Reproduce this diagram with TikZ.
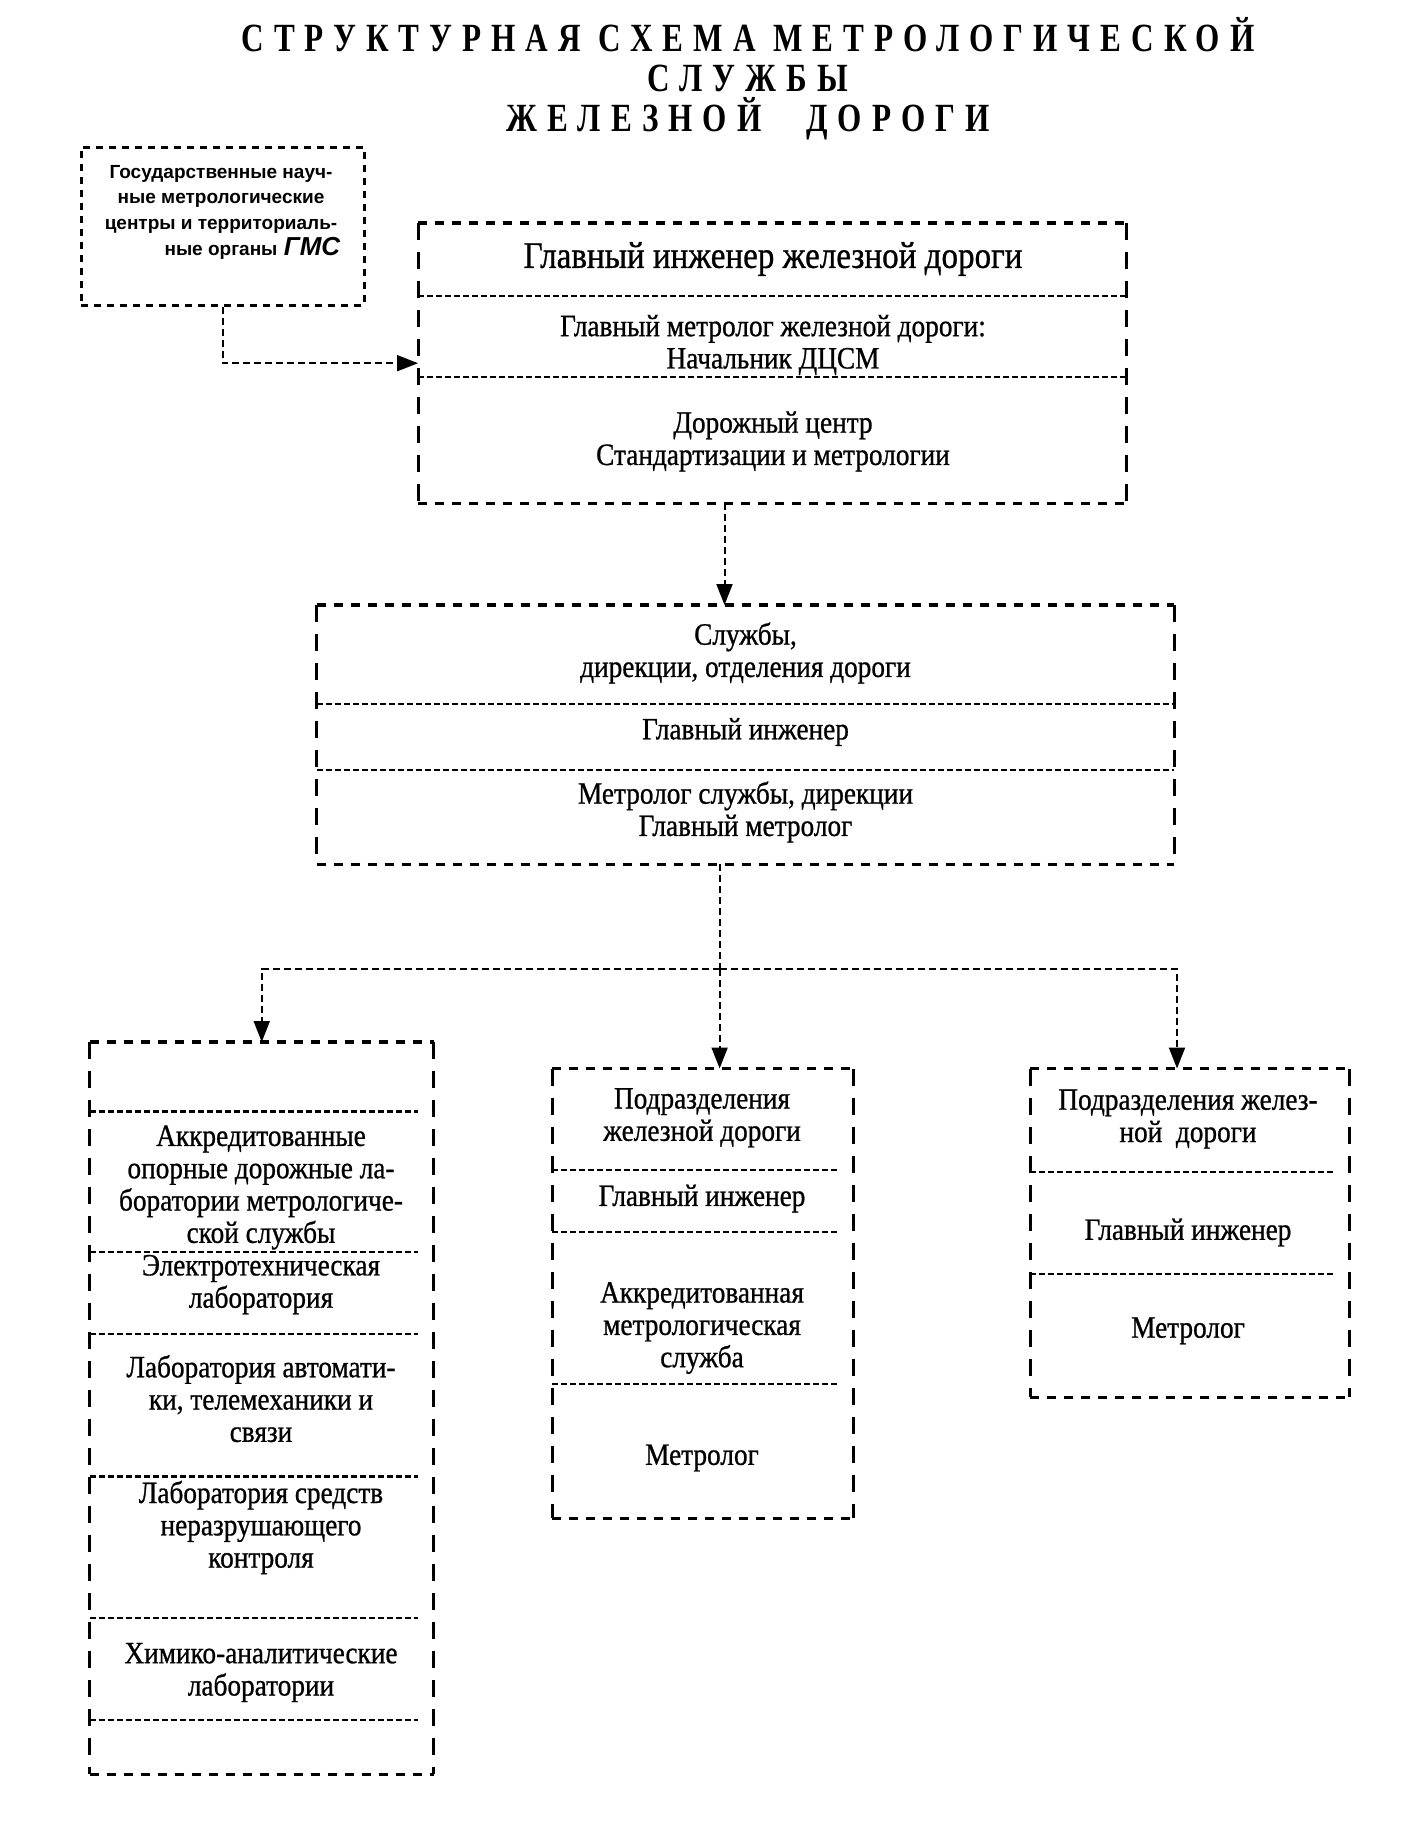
\documentclass[tikz,border=0pt]{standalone}
\usepackage{fontspec}
\setmainfont{Liberation Serif}[FakeStretch=0.88,FakeBold=0.8]
\newfontfamily\titlefont{Liberation Serif}[FakeStretch=0.78,LetterSpace=25]
\newfontfamily\sansfont{Liberation Sans}
\usetikzlibrary{arrows.meta}
\newcommand\drawdbox[1]{%
  \draw[hdash] (#1.north west) -- (#1.north east);
  \draw[hdash] (#1.south west) -- (#1.south east);
  \draw[vdash] (#1.north west) -- (#1.south west);
  \draw[vdash] (#1.north east) -- (#1.south east);}
\begin{document}
\begin{tikzpicture}[x=1pt,y=-1pt,
  bigbox/.style={inner sep=0pt, anchor=north west},
  hdash/.style={line width=3.5pt, dash pattern=on 9pt off 8pt},
  vdash/.style={line width=3pt, dash pattern=on 17pt off 12pt},
  smallbox/.style={draw, line width=2.6pt, dash pattern=on 7pt off 6pt, inner sep=0pt, anchor=north west},
  divider/.style={line width=2.2pt, dash pattern=on 6pt off 3pt},
  cline/.style={line width=2pt, dash pattern=on 7pt off 4pt},
  conn/.style={cline, -{Triangle[length=21pt,width=16pt]}},
  txt/.style={inner sep=0pt, align=center, font=\fontsize{31}{32.3}\selectfont},
  ttl/.style={inner sep=0pt, align=center, font=\titlefont\bfseries\fontsize{40}{40}\selectfont}]
\useasboundingbox (0,0) rectangle (1417,1838);

% title
\node[ttl] (h) at (748,78.5) {СТРУКТУРНАЯ СХЕМА МЕТРОЛОГИЧЕСКОЙ\\СЛУЖБЫ\\ЖЕЛЕЗНОЙ\hspace{45pt}ДОРОГИ};

% top-left box
\node[smallbox, minimum width=283pt, minimum height=158pt] (tl) at (80,146) {};
\node[inner sep=0pt, align=center, font=\sansfont\bfseries\fontsize{19}{25.7}\selectfont] (tlt) at (221,212)
  {Государственные науч-\\ные метрологические\\центры и территориаль-\\ные органы};
\node[inner sep=0pt, font=\sansfont\bfseries\itshape\fontsize{26}{28}\selectfont] (gms) at (312,247) {ГМС};

% box 1
\node[bigbox, minimum width=708pt, minimum height=280pt] (b1) at (418,223) {};
\drawdbox{b1}
\draw[divider] (418,296) -- (1126,296);
\draw[divider] (418,377) -- (1126,377);
\node[txt, font=\fontsize{37.6}{40}\selectfont] (t1a) at (773,259) {Главный инженер железной дороги};
\node[txt] (t1b) at (773,345) {Главный метролог железной дороги:\\Начальник ДЦСМ};
\node[txt] (t1c) at (773,441.5) {Дорожный центр\\Стандартизации и метрологии};

% box 2
\node[bigbox, minimum width=857.5pt, minimum height=259pt] (b2) at (316.5,605) {};
\drawdbox{b2}
\draw[divider] (316.5,704) -- (1174,704);
\draw[divider] (316.5,770) -- (1174,770);
\node[txt] (t2a) at (745.5,653) {Службы,\\дирекции, отделения дороги};
\node[txt] (t2b) at (745.5,732) {Главный инженер};
\node[txt] (t2c) at (745.5,812) {Метролог службы, дирекции\\Главный метролог};

% box 3
\node[bigbox, minimum width=343.7pt, minimum height=732pt] (b3) at (89.7,1042) {};
\drawdbox{b3}
\foreach \yy in {1111.5,1252,1334,1476.5,1618,1720} \draw[divider] (89.7,\yy) -- (418,\yy);
\node[txt] (t3a) at (261,1187.5) {Аккредитованные\\опорные дорожные ла-\\боратории метрологиче-\\ской службы};
\node[txt] (t3b) at (261,1284.6) {Электротехническая\\лаборатория};
\node[txt] (t3c) at (261,1398.6) {Лаборатория автомати-\\ки, телемеханики и\\связи};
\node[txt] (t3d) at (261,1527.5) {Лаборатория средств\\неразрушающего\\контроля};
\node[txt] (t3e) at (261,1672.5) {Химико-аналитические\\лаборатории};

% box 4
\node[bigbox, minimum width=300.4pt, minimum height=449.5pt] (b4) at (552.4,1068.5) {};
\drawdbox{b4}
\foreach \yy in {1170,1232,1384} \draw[divider] (552.4,\yy) -- (837,\yy);
\node[txt] (t4a) at (702,1117.8) {Подразделения\\железной дороги};
\node[txt] (t4b) at (702,1198.6) {Главный инженер};
\node[txt] (t4c) at (702,1328) {Аккредитованная\\метрологическая\\служба};
\node[txt] (t4d) at (702,1458) {Метролог};

% box 5
\node[bigbox, minimum width=318.7pt, minimum height=328.5pt] (b5) at (1030,1068.5) {};
\drawdbox{b5}
\foreach \yy in {1172,1274} \draw[divider] (1030,\yy) -- (1334.6,\yy);
\node[txt] (t5a) at (1188,1119) {Подразделения желез-\\ной~~дороги};
\node[txt] (t5b) at (1188,1232.5) {Главный инженер};
\node[txt] (t5c) at (1188,1330.8) {Метролог};

% connectors
\coordinate (a1) at (724.5,0);
\coordinate (split) at (719.6,969);
\coordinate (rx) at (1177,969);
\draw[conn] (tl.south) |- (b1.west);
\draw[conn] (b1.south -| a1) -- (b2.north -| a1);
\draw[cline] (b2.south -| split) -- (split);
\draw[conn] (split) -- (b4.north -| split);
\draw[conn] (split) -| (b3.north);
\draw[conn] (split) -| (b5.north -| rx);
\end{tikzpicture}
\end{document}
